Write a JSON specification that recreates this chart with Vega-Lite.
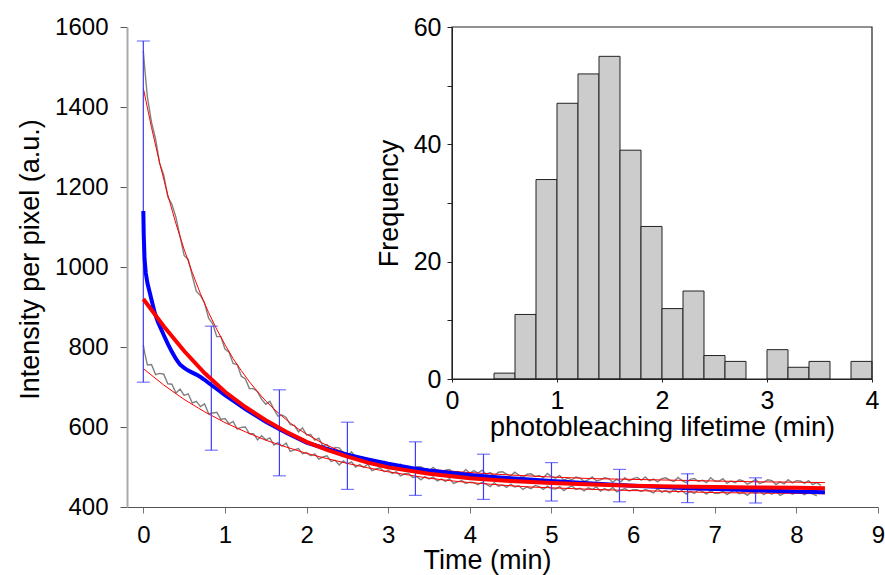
{
  "$schema": "https://vega.github.io/schema/vega-lite/v6.json",
  "autosize": "none",
  "width": 751,
  "height": 480,
  "padding": {"left": 127, "top": 27, "right": 7, "bottom": 68},
  "background": "white",
  "config": {
    "view": {"stroke": null},
    "font": "Liberation Sans",
    "axis": {"labelFont": "Liberation Sans", "titleFont": "Liberation Sans", "labelColor": "#000", "titleColor": "#000", "titleFontWeight": "normal", "grid": false, "labelFlush": false, "labelOverlap": false, "format": "d"}
  },
  "datasets": {
    "gray": [
      {"s":"u","t":0,"v":1540},{"s":"u","t":0.02,"v":1490},{"s":"u","t":0.05,"v":1425},{"s":"u","t":0.1,"v":1362},{"s":"u","t":0.15,"v":1320},{"s":"u","t":0.2,"v":1259},{"s":"u","t":0.25,"v":1230},{"s":"u","t":0.3,"v":1175},{"s":"u","t":0.35,"v":1157},{"s":"u","t":0.4,"v":1124},{"s":"u","t":0.45,"v":1076},{"s":"u","t":0.5,"v":1029},{"s":"u","t":0.55,"v":1019},{"s":"u","t":0.6,"v":977},{"s":"u","t":0.65,"v":939},{"s":"u","t":0.7,"v":929},{"s":"u","t":0.75,"v":910},{"s":"u","t":0.8,"v":872},{"s":"u","t":0.85,"v":858},{"s":"u","t":0.9,"v":826},{"s":"u","t":0.95,"v":826},{"s":"u","t":1.0,"v":795},{"s":"u","t":1.05,"v":787},{"s":"u","t":1.1,"v":759},{"s":"u","t":1.15,"v":756},{"s":"u","t":1.2,"v":727},{"s":"u","t":1.25,"v":720},{"s":"u","t":1.3,"v":696},{"s":"u","t":1.35,"v":696},{"s":"u","t":1.4,"v":688},{"s":"u","t":1.45,"v":669},{"s":"u","t":1.5,"v":657},{"s":"u","t":1.55,"v":664},{"s":"u","t":1.6,"v":644},{"s":"u","t":1.65,"v":627},{"s":"u","t":1.7,"v":630},{"s":"u","t":1.75,"v":624},{"s":"u","t":1.8,"v":606},{"s":"u","t":1.85,"v":604},{"s":"u","t":1.9,"v":588},{"s":"u","t":1.95,"v":598},{"s":"u","t":2.0,"v":580},{"s":"u","t":2.05,"v":581},{"s":"u","t":2.1,"v":567},{"s":"u","t":2.15,"v":572},{"s":"u","t":2.2,"v":553},{"s":"u","t":2.25,"v":556},{"s":"u","t":2.3,"v":540},{"s":"u","t":2.35,"v":549},{"s":"u","t":2.4,"v":548},{"s":"u","t":2.45,"v":535},{"s":"u","t":2.5,"v":528},{"s":"u","t":2.55,"v":538},{"s":"u","t":2.6,"v":525},{"s":"u","t":2.65,"v":514},{"s":"u","t":2.7,"v":522},{"s":"u","t":2.75,"v":522},{"s":"u","t":2.8,"v":510},{"s":"u","t":2.85,"v":512},{"s":"u","t":2.9,"v":502},{"s":"u","t":2.95,"v":514},{"s":"u","t":3.0,"v":502},
      {"s":"u","t":3.05,"v":508},{"s":"u","t":3.1,"v":500},{"s":"u","t":3.15,"v":507},{"s":"u","t":3.2,"v":496},{"s":"u","t":3.25,"v":499},{"s":"u","t":3.3,"v":491},{"s":"u","t":3.35,"v":500},{"s":"u","t":3.4,"v":501},{"s":"u","t":3.45,"v":494},{"s":"u","t":3.5,"v":490},{"s":"u","t":3.55,"v":499},{"s":"u","t":3.6,"v":491},{"s":"u","t":3.65,"v":485},{"s":"u","t":3.7,"v":492},{"s":"u","t":3.75,"v":494},{"s":"u","t":3.8,"v":486},{"s":"u","t":3.85,"v":489},{"s":"u","t":3.9,"v":482},{"s":"u","t":3.95,"v":494},{"s":"u","t":4.0,"v":485},
      {"s":"u","t":4.05,"v":491},{"s":"u","t":4.1,"v":485},{"s":"u","t":4.15,"v":492},{"s":"u","t":4.2,"v":482},{"s":"u","t":4.25,"v":486},{"s":"u","t":4.3,"v":478},{"s":"u","t":4.35,"v":487},{"s":"u","t":4.4,"v":488},{"s":"u","t":4.45,"v":482},{"s":"u","t":4.5,"v":478},{"s":"u","t":4.55,"v":487},{"s":"u","t":4.6,"v":480},{"s":"u","t":4.65,"v":474},{"s":"u","t":4.7,"v":482},{"s":"u","t":4.75,"v":483},{"s":"u","t":4.8,"v":476},{"s":"u","t":4.85,"v":479},{"s":"u","t":4.9,"v":473},{"s":"u","t":4.95,"v":484},{"s":"u","t":5.0,"v":476},
      {"s":"u","t":5.05,"v":472},{"s":"u","t":5.1,"v":479},{"s":"u","t":5.15,"v":467},{"s":"u","t":5.2,"v":472},{"s":"u","t":5.25,"v":468},{"s":"u","t":5.3,"v":475},{"s":"u","t":5.35,"v":472},{"s":"u","t":5.4,"v":464},{"s":"u","t":5.45,"v":468},{"s":"u","t":5.5,"v":475},{"s":"u","t":5.55,"v":465},{"s":"u","t":5.6,"v":468},{"s":"u","t":5.65,"v":473},{"s":"u","t":5.7,"v":471},{"s":"u","t":5.75,"v":462},{"s":"u","t":5.8,"v":469},{"s":"u","t":5.85,"v":463},{"s":"u","t":5.9,"v":473},{"s":"u","t":5.95,"v":465},{"s":"u","t":6.0,"v":471},
      {"s":"u","t":6.05,"v":474},{"s":"u","t":6.1,"v":467},{"s":"u","t":6.15,"v":475},{"s":"u","t":6.2,"v":465},{"s":"u","t":6.25,"v":470},{"s":"u","t":6.3,"v":463},{"s":"u","t":6.35,"v":471},{"s":"u","t":6.4,"v":473},{"s":"u","t":6.45,"v":467},{"s":"u","t":6.5,"v":464},{"s":"u","t":6.55,"v":474},{"s":"u","t":6.6,"v":466},{"s":"u","t":6.65,"v":461},{"s":"u","t":6.7,"v":469},{"s":"u","t":6.75,"v":471},{"s":"u","t":6.8,"v":464},{"s":"u","t":6.85,"v":467},{"s":"u","t":6.9,"v":461},{"s":"u","t":6.95,"v":473},{"s":"u","t":7.0,"v":465},
      {"s":"u","t":7.05,"v":464},{"s":"u","t":7.1,"v":471},{"s":"u","t":7.15,"v":459},{"s":"u","t":7.2,"v":465},{"s":"u","t":7.25,"v":461},{"s":"u","t":7.3,"v":468},{"s":"u","t":7.35,"v":465},{"s":"u","t":7.4,"v":457},{"s":"u","t":7.45,"v":462},{"s":"u","t":7.5,"v":469},{"s":"u","t":7.55,"v":459},{"s":"u","t":7.6,"v":462},{"s":"u","t":7.65,"v":468},{"s":"u","t":7.7,"v":466},{"s":"u","t":7.75,"v":456},{"s":"u","t":7.8,"v":463},{"s":"u","t":7.85,"v":458},{"s":"u","t":7.9,"v":468},{"s":"u","t":7.95,"v":460},{"s":"u","t":8.0,"v":466},
      {"s":"u","t":8.05,"v":465},{"s":"u","t":8.1,"v":459},{"s":"u","t":8.15,"v":466},{"s":"u","t":8.2,"v":456},{"s":"u","t":8.25,"v":461},{"s":"u","t":8.3,"v":454},
      {"s":"l","t":0,"v":805},{"s":"l","t":0.02,"v":782},{"s":"l","t":0.05,"v":755},{"s":"l","t":0.1,"v":756},{"s":"l","t":0.15,"v":731},{"s":"l","t":0.2,"v":734},{"s":"l","t":0.25,"v":732},{"s":"l","t":0.3,"v":708},{"s":"l","t":0.35,"v":707},{"s":"l","t":0.4,"v":685},{"s":"l","t":0.45,"v":695},{"s":"l","t":0.5,"v":679},{"s":"l","t":0.55,"v":683},{"s":"l","t":0.6,"v":660},{"s":"l","t":0.65,"v":664},{"s":"l","t":0.7,"v":651},{"s":"l","t":0.75,"v":658},{"s":"l","t":0.8,"v":633},{"s":"l","t":0.85,"v":635},{"s":"l","t":0.9,"v":637},{"s":"l","t":0.95,"v":619},{"s":"l","t":1.0,"v":621},{"s":"l","t":1.05,"v":608},{"s":"l","t":1.1,"v":614},{"s":"l","t":1.15,"v":595},{"s":"l","t":1.2,"v":599},{"s":"l","t":1.25,"v":600},{"s":"l","t":1.3,"v":583},{"s":"l","t":1.35,"v":583},{"s":"l","t":1.4,"v":568},{"s":"l","t":1.45,"v":578},{"s":"l","t":1.5,"v":568},{"s":"l","t":1.55,"v":573},{"s":"l","t":1.6,"v":555},{"s":"l","t":1.65,"v":561},{"s":"l","t":1.7,"v":552},{"s":"l","t":1.75,"v":560},{"s":"l","t":1.8,"v":539},{"s":"l","t":1.85,"v":543},{"s":"l","t":1.9,"v":546},{"s":"l","t":1.95,"v":533},{"s":"l","t":2.0,"v":536},{"s":"l","t":2.05,"v":528},{"s":"l","t":2.1,"v":533},{"s":"l","t":2.15,"v":520},{"s":"l","t":2.2,"v":525},{"s":"l","t":2.25,"v":528},{"s":"l","t":2.3,"v":514},{"s":"l","t":2.35,"v":517},{"s":"l","t":2.4,"v":505},{"s":"l","t":2.45,"v":515},{"s":"l","t":2.5,"v":508},{"s":"l","t":2.55,"v":513},{"s":"l","t":2.6,"v":500},{"s":"l","t":2.65,"v":506},{"s":"l","t":2.7,"v":499},{"s":"l","t":2.75,"v":507},{"s":"l","t":2.8,"v":491},{"s":"l","t":2.85,"v":495},{"s":"l","t":2.9,"v":498},{"s":"l","t":2.95,"v":488},{"s":"l","t":3.0,"v":492},
      {"s":"l","t":3.05,"v":484},{"s":"l","t":3.1,"v":488},{"s":"l","t":3.15,"v":478},{"s":"l","t":3.2,"v":483},{"s":"l","t":3.25,"v":484},{"s":"l","t":3.3,"v":474},{"s":"l","t":3.35,"v":476},{"s":"l","t":3.4,"v":468},{"s":"l","t":3.45,"v":476},{"s":"l","t":3.5,"v":470},{"s":"l","t":3.55,"v":475},{"s":"l","t":3.6,"v":465},{"s":"l","t":3.65,"v":470},{"s":"l","t":3.7,"v":464},{"s":"l","t":3.75,"v":471},{"s":"l","t":3.8,"v":459},{"s":"l","t":3.85,"v":463},{"s":"l","t":3.9,"v":466},{"s":"l","t":3.95,"v":459},{"s":"l","t":4.0,"v":462},
      {"s":"l","t":4.05,"v":461},{"s":"l","t":4.1,"v":456},{"s":"l","t":4.15,"v":462},{"s":"l","t":4.2,"v":457},{"s":"l","t":4.25,"v":451},{"s":"l","t":4.3,"v":461},{"s":"l","t":4.35,"v":452},{"s":"l","t":4.4,"v":455},{"s":"l","t":4.45,"v":449},{"s":"l","t":4.5,"v":457},{"s":"l","t":4.55,"v":450},{"s":"l","t":4.6,"v":453},{"s":"l","t":4.65,"v":444},{"s":"l","t":4.7,"v":450},{"s":"l","t":4.75,"v":446},{"s":"l","t":4.8,"v":454},{"s":"l","t":4.85,"v":451},{"s":"l","t":4.9,"v":444},{"s":"l","t":4.95,"v":452},{"s":"l","t":5.0,"v":446},
      {"s":"l","t":5.05,"v":445},{"s":"l","t":5.1,"v":451},{"s":"l","t":5.15,"v":441},{"s":"l","t":5.2,"v":448},{"s":"l","t":5.25,"v":453},{"s":"l","t":5.3,"v":444},{"s":"l","t":5.35,"v":447},{"s":"l","t":5.4,"v":440},{"s":"l","t":5.45,"v":448},{"s":"l","t":5.5,"v":444},{"s":"l","t":5.55,"v":450},{"s":"l","t":5.6,"v":440},{"s":"l","t":5.65,"v":446},{"s":"l","t":5.7,"v":441},{"s":"l","t":5.75,"v":449},{"s":"l","t":5.8,"v":438},{"s":"l","t":5.85,"v":442},{"s":"l","t":5.9,"v":446},{"s":"l","t":5.95,"v":440},{"s":"l","t":6.0,"v":443},
      {"s":"l","t":6.05,"v":443},{"s":"l","t":6.1,"v":439},{"s":"l","t":6.15,"v":444},{"s":"l","t":6.2,"v":440},{"s":"l","t":6.25,"v":435},{"s":"l","t":6.3,"v":446},{"s":"l","t":6.35,"v":437},{"s":"l","t":6.4,"v":441},{"s":"l","t":6.45,"v":435},{"s":"l","t":6.5,"v":444},{"s":"l","t":6.55,"v":437},{"s":"l","t":6.6,"v":441},{"s":"l","t":6.65,"v":432},{"s":"l","t":6.7,"v":439},{"s":"l","t":6.75,"v":434},{"s":"l","t":6.8,"v":443},{"s":"l","t":6.85,"v":439},{"s":"l","t":6.9,"v":432},{"s":"l","t":6.95,"v":441},{"s":"l","t":7.0,"v":434},
      {"s":"l","t":7.05,"v":434},{"s":"l","t":7.1,"v":440},{"s":"l","t":7.15,"v":431},{"s":"l","t":7.2,"v":438},{"s":"l","t":7.25,"v":442},{"s":"l","t":7.3,"v":433},{"s":"l","t":7.35,"v":436},{"s":"l","t":7.4,"v":429},{"s":"l","t":7.45,"v":438},{"s":"l","t":7.5,"v":434},{"s":"l","t":7.55,"v":440},{"s":"l","t":7.6,"v":431},{"s":"l","t":7.65,"v":437},{"s":"l","t":7.7,"v":432},{"s":"l","t":7.75,"v":440},{"s":"l","t":7.8,"v":429},{"s":"l","t":7.85,"v":434},{"s":"l","t":7.9,"v":438},{"s":"l","t":7.95,"v":432},{"s":"l","t":8.0,"v":436},
      {"s":"l","t":8.05,"v":436},{"s":"l","t":8.1,"v":431},{"s":"l","t":8.15,"v":437},{"s":"l","t":8.2,"v":433},{"s":"l","t":8.25,"v":428}
    ],
    "fits": [
      {"s":"u","t":0,"v":1447},{"s":"u","t":0.1,"v":1349},{"s":"u","t":0.2,"v":1260},{"s":"u","t":0.3,"v":1180},{"s":"u","t":0.4,"v":1108},{"s":"u","t":0.5,"v":1044},{"s":"u","t":0.6,"v":986},{"s":"u","t":0.7,"v":933},{"s":"u","t":0.8,"v":886},{"s":"u","t":0.9,"v":844},{"s":"u","t":1.0,"v":806},{"s":"u","t":1.1,"v":771},{"s":"u","t":1.2,"v":741},{"s":"u","t":1.3,"v":713},{"s":"u","t":1.4,"v":688},{"s":"u","t":1.5,"v":665},{"s":"u","t":1.6,"v":645},{"s":"u","t":1.7,"v":627},{"s":"u","t":1.8,"v":610},{"s":"u","t":1.9,"v":595},{"s":"u","t":2.0,"v":582},{"s":"u","t":2.2,"v":559},{"s":"u","t":2.4,"v":541},{"s":"u","t":2.6,"v":526},{"s":"u","t":2.8,"v":514},{"s":"u","t":3.0,"v":505},{"s":"u","t":3.25,"v":499},{"s":"u","t":3.5,"v":494},{"s":"u","t":3.75,"v":490},{"s":"u","t":4.0,"v":486},{"s":"u","t":4.5,"v":480},{"s":"u","t":5.0,"v":475},{"s":"u","t":5.5,"v":471},{"s":"u","t":6.0,"v":469},{"s":"u","t":6.5,"v":467},{"s":"u","t":7.0,"v":465},{"s":"u","t":7.5,"v":463},{"s":"u","t":8.0,"v":462},{"s":"u","t":8.35,"v":461},
      {"s":"l","t":0,"v":746},{"s":"l","t":0.25,"v":705},{"s":"l","t":0.5,"v":669},{"s":"l","t":0.75,"v":638},{"s":"l","t":1.0,"v":611},{"s":"l","t":1.25,"v":588},{"s":"l","t":1.5,"v":567},{"s":"l","t":1.75,"v":550},{"s":"l","t":2.0,"v":534},{"s":"l","t":2.25,"v":521},{"s":"l","t":2.5,"v":509},{"s":"l","t":2.75,"v":498},{"s":"l","t":3.0,"v":488},{"s":"l","t":3.25,"v":480},{"s":"l","t":3.5,"v":472},{"s":"l","t":3.75,"v":466},{"s":"l","t":4.0,"v":461},{"s":"l","t":4.25,"v":457},{"s":"l","t":4.5,"v":453},{"s":"l","t":4.75,"v":450},{"s":"l","t":5.0,"v":448},{"s":"l","t":5.5,"v":444},{"s":"l","t":6.0,"v":441},{"s":"l","t":6.5,"v":439},{"s":"l","t":7.0,"v":436},{"s":"l","t":7.5,"v":435},{"s":"l","t":8.0,"v":434},{"s":"l","t":8.35,"v":433}
    ],
    "mean": [
      {"t":0,"v":1140},{"t":0.005,"v":1080},{"t":0.015,"v":1020},{"t":0.03,"v":985},{"t":0.05,"v":960},{"t":0.08,"v":935},{"t":0.1,"v":918},{"t":0.14,"v":885},{"t":0.18,"v":862},{"t":0.25,"v":830},{"t":0.3,"v":808},{"t":0.35,"v":788},{"t":0.4,"v":770},{"t":0.45,"v":756},{"t":0.5,"v":748},{"t":0.55,"v":741},{"t":0.6,"v":736},{"t":0.65,"v":731},{"t":0.7,"v":725},{"t":0.75,"v":718},{"t":0.8,"v":710},{"t":0.9,"v":695},{"t":1.0,"v":680},{"t":1.1,"v":666},{"t":1.25,"v":645},{"t":1.5,"v":613},{"t":1.75,"v":586},{"t":2.0,"v":561},{"t":2.25,"v":545},{"t":2.5,"v":531},{"t":2.75,"v":519},{"t":3.0,"v":508},{"t":3.33,"v":496},{"t":3.5,"v":491},{"t":4.0,"v":480},{"t":4.17,"v":477},{"t":4.5,"v":472},{"t":5.0,"v":465},{"t":5.5,"v":459},{"t":5.83,"v":455},{"t":6.0,"v":453},{"t":6.5,"v":449},{"t":6.67,"v":447},{"t":7.0,"v":445},{"t":7.5,"v":442},{"t":8.0,"v":439},{"t":8.35,"v":437}
    ],
    "fit": [
      {"t":0,"v":920},{"t":0.25,"v":852},{"t":0.5,"v":790},{"t":0.75,"v":735},{"t":1.0,"v":688},{"t":1.25,"v":650},{"t":1.5,"v":617},{"t":1.75,"v":588},{"t":2.0,"v":563},{"t":2.25,"v":543},{"t":2.5,"v":526},{"t":2.75,"v":511},{"t":3.0,"v":499},{"t":3.5,"v":483},{"t":4.0,"v":472},{"t":4.5,"v":465},{"t":5.0,"v":460},{"t":5.5,"v":456},{"t":6.0,"v":453},{"t":6.5,"v":451},{"t":7.0,"v":450},{"t":7.5,"v":449},{"t":8.0,"v":448},{"t":8.35,"v":447}
    ],
    "err": [
      {"t":0,"lo":712,"hi":1565},{"t":0.833,"lo":542,"hi":852},{"t":1.667,"lo":478,"hi":693},{"t":2.5,"lo":444,"hi":612},{"t":3.333,"lo":429,"hi":563},{"t":4.167,"lo":419,"hi":532},{"t":5.0,"lo":415,"hi":511},{"t":5.833,"lo":413,"hi":494},{"t":6.667,"lo":411,"hi":483},{"t":7.5,"lo":410,"hi":473}
    ],
    "hist": [
      {"b0":0.4,"b1":0.6,"n":1},{"b0":0.6,"b1":0.8,"n":11},{"b0":0.8,"b1":1.0,"n":34},{"b0":1.0,"b1":1.2,"n":47},{"b0":1.2,"b1":1.4,"n":52},{"b0":1.4,"b1":1.6,"n":55},{"b0":1.6,"b1":1.8,"n":39},{"b0":1.8,"b1":2.0,"n":26},{"b0":2.0,"b1":2.2,"n":12},{"b0":2.2,"b1":2.4,"n":15},{"b0":2.4,"b1":2.6,"n":4},{"b0":2.6,"b1":2.8,"n":3},{"b0":3.0,"b1":3.2,"n":5},{"b0":3.2,"b1":3.4,"n":2},{"b0":3.4,"b1":3.6,"n":3},{"b0":3.8,"b1":4.0,"n":3}
    ]
  },
  "layer": [
    {
      "layer": [
        {
          "data": {"name": "gray"},
          "mark": {"type": "line", "color": "#808080", "strokeWidth": 1.4},
          "encoding": {
            "x": {"field": "t", "type": "quantitative", "scale": {"domain": [-0.2, 9], "nice": false, "zero": false},
              "axis": {"values": [0,1,2,3,4,5,6,7,8,9], "title": "Time (min)", "labelFontSize": 24, "titleFontSize": 27, "tickSize": 6, "labelPadding": 10, "domainColor": "#555", "tickColor": "#777", "titleX": 360, "titleY": 61, "titleAlign": "center", "titleBaseline": "alphabetic"}},
            "y": {"field": "v", "type": "quantitative", "scale": {"domain": [400, 1600], "nice": false, "zero": false},
              "axis": {"values": [400,600,800,1000,1200,1400,1600], "title": "Intensity per pixel (a.u.)", "labelFontSize": 24, "titleFontSize": 27, "tickSize": 7, "labelPadding": 12, "domainColor": "#aaaaaa", "domainWidth": 2, "tickColor": "#555", "titleX": -89, "titleY": 232, "titleAngle": 270, "titleAlign": "center", "titleBaseline": "alphabetic"}},
            "detail": {"field": "s"}
          }
        },
        {
          "data": {"name": "fits"},
          "mark": {"type": "line", "color": "#ff0000", "strokeWidth": 1},
          "encoding": {
            "x": {"field": "t", "type": "quantitative"},
            "y": {"field": "v", "type": "quantitative"},
            "detail": {"field": "s"}
          }
        },
        {
          "data": {"name": "err"},
          "mark": {"type": "rule", "color": "#3c3cff", "strokeWidth": 1.2},
          "encoding": {
            "x": {"field": "t", "type": "quantitative"},
            "y": {"field": "lo", "type": "quantitative"},
            "y2": {"field": "hi"}
          }
        },
        {
          "data": {"name": "err"},
          "mark": {"type": "tick", "orient": "horizontal", "color": "#3c3cff", "size": 13, "thickness": 1.2},
          "encoding": {
            "x": {"field": "t", "type": "quantitative"},
            "y": {"field": "hi", "type": "quantitative"}
          }
        },
        {
          "data": {"name": "err"},
          "mark": {"type": "tick", "orient": "horizontal", "color": "#3c3cff", "size": 13, "thickness": 1.2},
          "encoding": {
            "x": {"field": "t", "type": "quantitative"},
            "y": {"field": "lo", "type": "quantitative"}
          }
        },
        {
          "data": {"name": "mean"},
          "mark": {"type": "line", "color": "#0000ff", "strokeWidth": 4},
          "encoding": {
            "x": {"field": "t", "type": "quantitative"},
            "y": {"field": "v", "type": "quantitative"}
          }
        },
        {
          "data": {"name": "fit"},
          "mark": {"type": "line", "color": "#ff0000", "strokeWidth": 4},
          "encoding": {
            "x": {"field": "t", "type": "quantitative"},
            "y": {"field": "v", "type": "quantitative"}
          }
        }
      ]
    },
    {
      "layer": [
        {
          "data": {"name": "hist"},
          "mark": {"type": "bar", "color": "#cccccc", "stroke": "#222222", "strokeWidth": 1},
          "encoding": {
            "x": {"field": "b0", "type": "quantitative", "scale": {"domain": [0, 4], "range": [325, 745], "nice": false, "zero": false},
              "axis": {"orient": "bottom", "offset": -128, "values": [0,1,2,3,4], "title": "photobleaching lifetime (min)", "labelFontSize": 25, "titleFontSize": 27, "tickSize": 3, "labelPadding": 6, "domainColor": "#222", "tickColor": "#222", "titleX": 535, "titleY": 56, "titleAlign": "center", "titleBaseline": "alphabetic"}},
            "x2": {"field": "b1"},
            "y": {"field": "n", "type": "quantitative", "scale": {"domain": [0, 60], "range": [352, 0], "nice": false, "zero": false},
              "axis": {"orient": "left", "offset": -325, "values": [0,10,20,30,40,50,60], "labelExpr": "datum.value % 20 === 0 ? datum.label : ''", "title": "Frequency", "labelFontSize": 25, "titleFontSize": 27, "tickSize": 5, "labelPadding": 6, "domainColor": "#222", "tickColor": "#222", "titleX": -55, "titleY": 176, "titleAngle": 270, "titleAlign": "center", "titleBaseline": "alphabetic"}},
            "y2": {"datum": 0}
          }
        },
        {
          "data": {"values": [{}]},
          "mark": {"type": "rect", "filled": false, "color": "#222222", "strokeWidth": 1.2},
          "encoding": {
            "x": {"datum": 0, "type": "quantitative"},
            "x2": {"datum": 4},
            "y": {"datum": 0, "type": "quantitative"},
            "y2": {"datum": 60}
          }
        }
      ]
    }
  ],
  "resolve": {"scale": {"x": "independent", "y": "independent"}, "axis": {"x": "independent", "y": "independent"}}
}
